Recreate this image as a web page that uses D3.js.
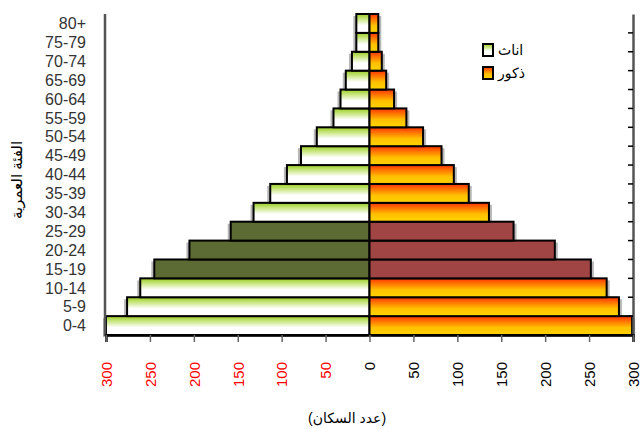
<!DOCTYPE html>
<html><head><meta charset="utf-8">
<script src="https://cdn.jsdelivr.net/npm/d3@7"></script>
<style>
html,body{margin:0;padding:0;background:#fff;}
svg{display:block;font-family:"Liberation Sans","DejaVu Sans",Arial,sans-serif;}
</style></head>
<body><svg id="c" width="642" height="429"></svg>
<script>
const categories = ["0-4","5-9","10-14","15-19","20-24","25-29","30-34","35-39","40-44","45-49","50-54","55-59","60-64","65-69","70-74","75-79","80+"];
const females = [300,276,261,245,205,158,132,113,94,78,60,41,33,27,20,15,15];
const males   = [299,284,270,252,211,164,136,113,96,82,61,42,28,19,14,10,10];
const highlighted = ["15-19","20-24","25-29"];
const xTicks = [-300,-250,-200,-150,-100,-50,0,50,100,150,200,250,300];
const legendLabels = ["اناث","ذكور"];
const xTitle = "(عدد السكان)";
const yTitle = "الفئة العمرية";

const svg = d3.select("#c");
const defs = svg.append("defs");
function grad(id, stops){
  const g = defs.append("linearGradient").attr("id",id).attr("x1",0).attr("y1",0).attr("x2",0).attr("y2",1);
  stops.forEach(s=>g.append("stop").attr("offset",s[0]).attr("stop-color",s[1]));
}
grad("gF",[[0,"#99cc22"],[0.25,"#c6e47a"],[0.6,"#ffffff"],[1,"#ffffff"]]);
grad("gM",[[0,"#ff3300"],[0.3,"#ff7a00"],[0.6,"#ffc000"],[1,"#ffd400"]]);

const x = d3.scaleLinear().domain([-300,300]).range([106,633]);
const y = d3.scaleBand().domain(categories.slice().reverse()).range([14,335]).padding(0);
const data = categories.map((c,i)=>({c, f:females[i], m:males[i], hi: highlighted.includes(c)}));

// shadows
const sh = svg.append("g").attr("fill","#9a9a9a").attr("opacity",0.7);
sh.selectAll(".sf").data(data).join("rect")
  .attr("x",d=>x(-d.f)-3).attr("y",d=>y(d.c)+2)
  .attr("width",d=>x(0)-x(-d.f)).attr("height",y.bandwidth());
sh.selectAll(".sm").data(data).join("rect")
  .attr("x",x(0)+3).attr("y",d=>y(d.c)+2)
  .attr("width",d=>x(d.m)-x(0)).attr("height",y.bandwidth());

const bars = svg.append("g").attr("stroke","#000").attr("stroke-width",2);
bars.selectAll(".f").data(data).join("rect")
  .attr("x",d=>x(-d.f)).attr("y",d=>y(d.c))
  .attr("width",d=>x(0)-x(-d.f)).attr("height",y.bandwidth())
  .attr("fill",d=>d.hi?"#5b6b33":"url(#gF)");
bars.selectAll(".m").data(data).join("rect")
  .attr("x",x(0)).attr("y",d=>y(d.c))
  .attr("width",d=>x(d.m)-x(0)).attr("height",y.bandwidth())
  .attr("fill",d=>d.hi?"#a04444":"url(#gM)");

// left axis line
svg.append("line").attr("x1",x(-300)-1).attr("x2",x(-300)-1).attr("y1",14).attr("y2",336)
  .attr("stroke","#555").attr("stroke-width",2.5);
// right axis with ticks
const rAxis = svg.append("g").attr("transform",`translate(${x(300)},0)`)
  .call(d3.axisRight(y).tickSize(0).tickFormat(""));
rAxis.select(".domain").attr("stroke","#555").attr("stroke-width",2.5);
rAxis.selectAll(".rt").data(categories.slice(1)).join("line")
  .attr("x1",-5).attr("x2",0).attr("y1",d=>y(d)+y.bandwidth()).attr("y2",d=>y(d)+y.bandwidth())
  .attr("stroke","#000").attr("stroke-width",1.5);

// category labels
svg.append("g").selectAll("text").data(categories).join("text")
  .attr("x",86).attr("y",d=>y(d)+y.bandwidth()/2).attr("dy","0.36em")
  .attr("text-anchor","end").attr("font-size",16).attr("fill","#333")
  .text(d=>d);

// bottom axis
const xAxis = svg.append("g").attr("transform","translate(0,335)")
  .call(d3.axisBottom(x).tickValues(xTicks).tickSize(7).tickFormat(d=>Math.abs(d)));
xAxis.select(".domain").attr("stroke","#000").attr("stroke-width",2.5);
xAxis.selectAll(".tick line").attr("stroke","#666").attr("stroke-width",1.5);
xAxis.selectAll(".tick text")
  .attr("transform","translate(0,27) rotate(-90)")
  .attr("x",0).attr("y",0).attr("dy","0.35em").attr("dx",0)
  .attr("text-anchor","end").attr("font-size",15).attr("font-family",null)
  .attr("fill",d=>d<0?"#ff0000":"#000");

// titles
svg.append("text").attr("x",347).attr("y",423).attr("text-anchor","middle")
  .attr("font-size",14).attr("fill","#000").text(xTitle);
svg.append("text").attr("transform","translate(22,180) rotate(-90)").attr("text-anchor","middle")
  .attr("font-size",15).attr("fill","#000").text(yTitle);

// legend
const lg = svg.append("g");
["url(#gF)","url(#gM)"].forEach((f,i)=>{
  lg.append("rect").attr("x",483).attr("y",44+i*23).attr("width",10).attr("height",12)
    .attr("fill",f).attr("stroke","#000").attr("stroke-width",2);
  lg.append("text").attr("x",498).attr("y",50+i*23).attr("dy","0.35em")
    .attr("font-size",14).attr("text-anchor","start").attr("fill","#000").text(legendLabels[i]);
});
</script></body></html>
